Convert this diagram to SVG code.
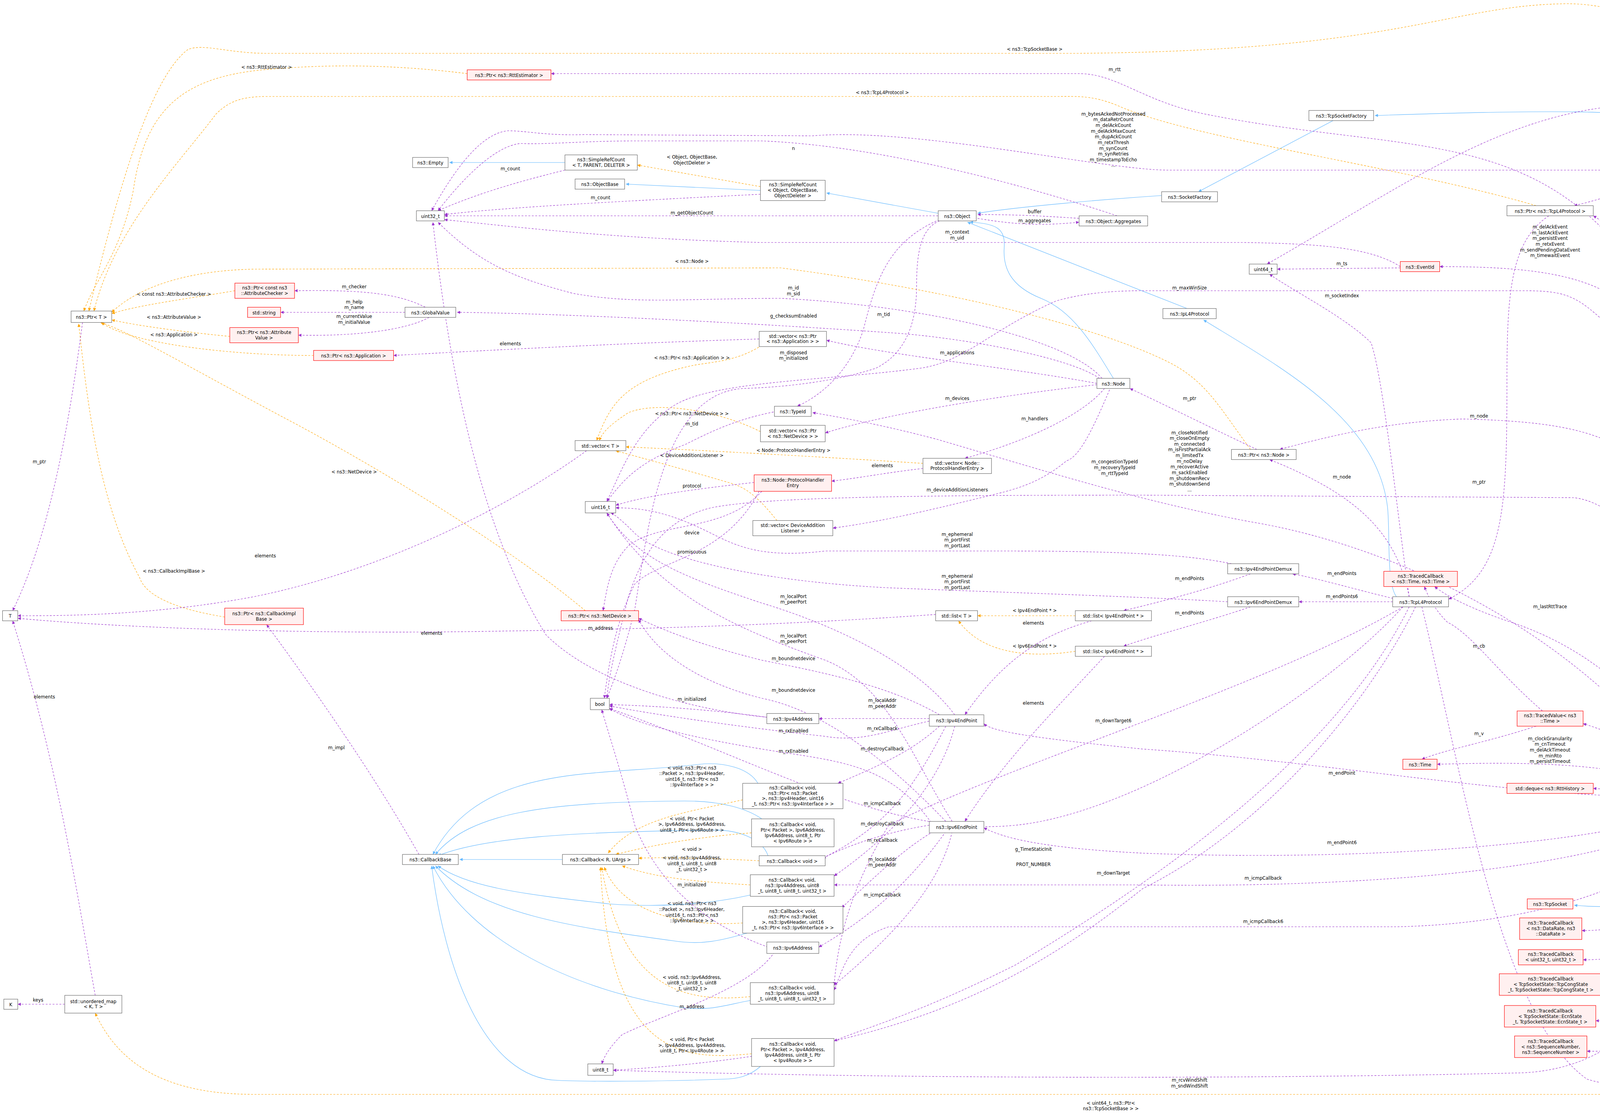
<svg xmlns="http://www.w3.org/2000/svg" width="5096" height="2862" viewBox="0 0 5096 2862">
<style>
.nd rect{fill:#fff;stroke:#666;stroke-width:0.35}
.rd rect{fill:#fff0f0;stroke:#f00;stroke-width:0.35}
.gd rect{fill:#999;stroke:#666;stroke-width:0.35}
text{font-family:"DejaVu Sans","Liberation Sans",sans-serif;font-size:3.6px;fill:#000}
.c{text-anchor:middle}
.u{fill:none;stroke:#9a32cd;stroke-width:0.35;stroke-dasharray:1.5,1.2;marker-end:url(#mp)}
.t{fill:none;stroke:#ffa500;stroke-width:0.35;stroke-dasharray:1.5,1.2;marker-end:url(#mo)}
.i{fill:none;stroke:#63b8ff;stroke-width:0.35;marker-end:url(#mb)}
</style>
<defs>
<marker id="mp" viewBox="0 0 10 10" refX="10" refY="5" markerUnits="userSpaceOnUse" markerWidth="3" markerHeight="2.4" orient="auto"><path d="M0,0L10,5L0,10z" fill="#9a32cd"/></marker>
<marker id="mo" viewBox="0 0 10 10" refX="10" refY="5" markerUnits="userSpaceOnUse" markerWidth="3" markerHeight="2.4" orient="auto"><path d="M0,0L10,5L0,10z" fill="#ffa500"/></marker>
<marker id="mb" viewBox="0 0 10 10" refX="10" refY="5" markerUnits="userSpaceOnUse" markerWidth="3" markerHeight="2.4" orient="auto"><path d="M0,0L10,5L0,10z" fill="#63b8ff"/></marker>
</defs>
<rect width="5096" height="2862" fill="#fff"/>
<g transform="scale(3.25)">
<g id="connectors">
<path class="i" d="M1344,121 C1330,110 1325,105 1322,98 C1310,85 1200,87 1083,91"/>
<path class="i" d="M1050,95 L944,151"/>
<path class="i" d="M915,154 C870,157 800,163 770,168"/>
<path class="i" d="M739,168 L651,152"/>
<path class="i" d="M599,150 L493,145"/>
<path class="i" d="M445,128 L354,128"/>
<path class="i" d="M877,298 C860,270 845,245 820,235 C795,225 790,210 791,195 C792,180 785,176 764,175"/>
<path class="i" d="M935,243 L762,175"/>
<path class="i" d="M1100,470 C1092,460 1095,420 1093,400 C1085,330 1010,290 948,252"/>
<path class="i" d="M1356,633 C1350,690 1310,720 1240,713"/>
<path class="i" d="M443,677 L362,677"/>
<path class="i" d="M597,617 C590,605 570,600 551,602 C470,612 380,600 341,673"/>
<path class="i" d="M600,645 C590,638 570,630 533,631 C430,632 370,640 343,673"/>
<path class="i" d="M605,674 C600,660 580,653 560,654 C450,655 380,660 345,674"/>
<path class="i" d="M591,705 C560,712 520,715 480,712 C420,705 370,700 345,682"/>
<path class="i" d="M592,734 C570,740 555,745 530,741 C450,730 380,720 343,682"/>
<path class="i" d="M591,788 C570,792 560,796 540,794 C450,780 370,740 341,682"/>
<path class="i" d="M599,840 C590,848 580,850 570,850 C520,852 460,852 440,851 C380,850 350,760 340,682"/>

<path class="t" d="M599,147 L502,130"/>
<text class="c" x="545" y="125">&lt; Object, ObjectBase,</text><text class="c" x="545" y="129.5">ObjectDeleter &gt;</text>
<path class="t" d="M185,229 C150,235 110,240 88,247"/>
<text class="c" x="137" y="233">&lt; const ns3::AttributeChecker &gt;</text>
<path class="t" d="M181,265 C150,262 110,257 88,252"/>
<text class="c" x="137" y="251">&lt; ns3::AttributeValue &gt;</text>
<path class="t" d="M247,280 C180,280 100,270 80,254"/>
<text class="c" x="137" y="265">&lt; ns3::Application &gt;</text>
<path class="t" d="M461,481 C400,430 300,370 235,335 C150,290 100,260 79,254"/>
<text class="c" x="279" y="373">&lt; ns3::NetDevice &gt;</text>
<path class="t" d="M177,486 C140,480 115,470 110,455 C80,400 70,330 62,255"/>
<text class="c" x="137" y="451">&lt; ns3::CallbackImplBase &gt;</text>
<path class="t" d="M368,58 C320,52 270,50 220,54 C150,58 115,80 105,150 C95,200 75,220 66,245"/>
<text class="c" x="210" y="54">&lt; ns3::RttEstimator &gt;</text>
<path class="t" d="M1440,622 C1430,500 1400,300 1385,120 C1370,40 1290,1 1230,3 C1140,5 1100,40 850,42 L210,42 C180,42 160,34 148,39 C120,60 95,140 70,245"/>
<text class="c" x="815" y="40">&lt; ns3::TcpSocketBase &gt;</text>
<path class="t" d="M1210,162 C1100,130 940,110 880,83 C860,75 850,76 830,76 L210,76 C190,76 180,80 170,90 C140,130 90,180 74,245"/>
<text class="c" x="695" y="74">&lt; ns3::TcpL4Protocol &gt;</text>
<path class="t" d="M985,354 C960,320 950,300 920,285 C870,260 760,230 615,211 L200,212 C150,213 110,225 88,246"/>
<text class="c" x="545" y="207">&lt; ns3::Node &gt;</text>
<path class="t" d="M600,272 C580,285 560,285 545,288 C490,300 480,320 470,347"/>
<text class="c" x="545" y="283">&lt; ns3::Ptr&lt; ns3::Application &gt; &gt;</text>
<path class="t" d="M599,340 C570,325 520,315 495,325 C480,335 475,340 472,347"/>
<text class="c" x="545" y="327">&lt; ns3::Ptr&lt; ns3::NetDevice &gt; &gt;</text>
<path class="t" d="M727,365 C650,360 560,355 493,352"/>
<text class="c" x="625" y="356">&lt; Node::ProtocolHandlerEntry &gt;</text>
<path class="t" d="M612,410 C600,395 590,385 577,381 C540,370 510,362 485,355"/>
<text class="c" x="545" y="360">&lt; DeviceAdditionListener &gt;</text>
<path class="t" d="M847,485 L770,485"/>
<text class="c" x="815" y="482">&lt; Ipv4EndPoint * &gt;</text>
<path class="t" d="M847,513 C800,520 770,510 755,489"/>
<text class="c" x="815" y="510">&lt; Ipv6EndPoint * &gt;</text>
<path class="t" d="M1520,808 C1500,850 1480,862 1440,862 L200,862 C120,862 90,830 75,798"/>
<text class="c" x="875" y="870">&lt; uint64_t, ns3::Ptr&lt;</text><text class="c" x="875" y="874.5"> ns3::TcpSocketBase &gt; &gt;</text>
<path class="t" d="M585,630 C540,640 500,645 479,672"/>
<text class="c" x="545" y="606">&lt; void, ns3::Ptr&lt; ns3</text><text class="c" x="545" y="610.5">::Packet &gt;, ns3::Ipv4Header,</text><text class="c" x="545" y="615">uint16_t, ns3::Ptr&lt; ns3</text><text class="c" x="545" y="619.5">::Ipv4Interface &gt; &gt;</text>
<path class="t" d="M592,656 C540,660 505,668 485,673"/>
<text class="c" x="545" y="646">&lt; void, Ptr&lt; Packet</text><text class="c" x="545" y="650.5">&gt;, Ipv6Address, Ipv6Address,</text><text class="c" x="545" y="655">uint8_t, Ptr&lt; Ipv6Route &gt; &gt;</text>
<path class="t" d="M598,678 C560,676 520,675 503,676"/>
<text class="c" x="545" y="670">&lt; void &gt;</text>
<path class="t" d="M591,697 C560,695 520,693 490,682"/>
<text class="c" x="545" y="677">&lt; void, ns3::Ipv4Address,</text><text class="c" x="545" y="681.5">uint8_t, uint8_t, uint8</text><text class="c" x="545" y="686">_t, uint32_t &gt;</text>
<path class="t" d="M585,727 C540,730 490,720 476,683"/>
<text class="c" x="545" y="713">&lt; void, ns3::Ptr&lt; ns3</text><text class="c" x="545" y="717.5">::Packet &gt;, ns3::Ipv6Header,</text><text class="c" x="545" y="722">uint16_t, ns3::Ptr&lt; ns3</text><text class="c" x="545" y="726.5">::Ipv6Interface &gt; &gt;</text>
<path class="t" d="M591,785 C540,790 490,780 474,683"/>
<text class="c" x="545" y="771">&lt; void, ns3::Ipv6Address,</text><text class="c" x="545" y="775.5">uint8_t, uint8_t, uint8</text><text class="c" x="545" y="780">_t, uint32_t &gt;</text>
<path class="t" d="M592,830 C540,835 480,835 473,683"/>
<text class="c" x="545" y="820">&lt; void, Ptr&lt; Packet</text><text class="c" x="545" y="824.5">&gt;, Ipv4Address, Ipv4Address,</text><text class="c" x="545" y="829">uint8_t, Ptr&lt; Ipv4Route &gt; &gt;</text>

<path class="u" d="M445,134 C400,145 370,155 345,166"/>
<text class="c" x="402" y="134">m_count</text>
<path class="u" d="M599,153 C500,158 400,163 350,169"/>
<text class="c" x="473" y="157">m_count</text>
<path class="u" d="M739,170 L350,170"/>
<text class="c" x="545" y="169">m_getObjectCount</text>
<path class="u" d="M770,172 C800,177 820,178 850,175"/>
<text class="c" x="815" y="175">m_aggregates</text>
<path class="u" d="M850,172 C820,170 800,169 770,169"/>
<text class="c" x="815" y="168">buffer</text>
<path class="u" d="M880,170 C820,150 700,115 600,111 L500,111 C460,111 430,114 410,113 C390,115 365,140 345,166"/>
<text class="c" x="625" y="118">n</text>
<path class="u" d="M1345,624 C1330,400 1310,200 1295,150 C1290,140 1285,134 1270,134 L920,134 C870,134 720,100 640,107 L460,106 C430,107 415,103 400,103 C380,105 360,130 340,166"/>
<text class="c" x="877" y="91">m_bytesAckedNotProcessed</text><text class="c" x="877" y="95.5">m_dataRetrCount</text><text class="c" x="877" y="100">m_delAckCount</text><text class="c" x="877" y="104.5">m_delAckMaxCount</text><text class="c" x="877" y="109">m_dupAckCount</text><text class="c" x="877" y="113.5">m_retxThresh</text><text class="c" x="877" y="118">m_synCount</text><text class="c" x="877" y="122.5">m_synRetries</text><text class="c" x="877" y="127">m_timestampToEcho</text><text class="c" x="877" y="131.5">...</text>
<path class="u" d="M1103,210 C1080,195 1040,192 980,191 L600,191 C480,188 400,178 350,173"/>
<text class="c" x="754" y="184">m_context</text><text class="c" x="754" y="188.5">m_uid</text>
<path class="u" d="M1103,211 L1006,212"/>
<text class="c" x="1057" y="209">m_ts</text>
<path class="u" d="M868,298 C840,265 720,240 615,235 C540,235 500,240 451,231 C410,220 380,210 345,175"/>
<text class="c" x="625" y="228">m_id</text><text class="c" x="625" y="232.5">m_sid</text>
<path class="u" d="M866,298 C840,280 750,265 700,262 C600,255 450,247 360,246"/>
<text class="c" x="625" y="250">g_checksumEnabled</text>
<path class="u" d="M335,242 C315,232 290,228 232,229"/>
<text class="c" x="279" y="227">m_checker</text>
<path class="u" d="M319,246 L221,246"/>
<text class="c" x="279" y="239">m_help</text><text class="c" x="279" y="243.5">m_name</text>
<path class="u" d="M338,250 C320,260 280,265 235,264"/>
<text class="c" x="279" y="250.5">m_currentValue</text><text class="c" x="279" y="255">m_initialValue</text>
<path class="u" d="M598,267 C500,270 400,275 310,280"/>
<text class="c" x="402" y="272">elements</text>
<path class="u" d="M864,302 C800,290 700,280 651,268"/>
<text class="c" x="754" y="279">m_applications</text>
<path class="u" d="M864,303 C800,310 700,325 650,341"/>
<text class="c" x="754" y="315">m_devices</text>
<path class="u" d="M870,306 C850,330 800,350 760,361"/>
<text class="c" x="815" y="331">m_handlers</text>
<path class="u" d="M874,307 C860,340 850,360 840,363 C820,380 800,385 789,388 C740,400 700,410 656,416"/>
<text class="c" x="754" y="387">m_deviceAdditionListeners</text>
<path class="u" d="M727,369 C700,372 680,376 655,379"/>
<text class="c" x="695" y="368">elements</text>
<path class="u" d="M594,380 C550,385 510,390 485,398"/>
<text class="c" x="545" y="384">protocol</text>
<path class="u" d="M600,387 C570,420 520,410 495,430 C480,445 478,465 475,481"/>
<text class="c" x="545" y="421">device</text>
<path class="u" d="M598,387 C570,440 520,440 500,460 C485,490 480,520 476,550"/>
<text class="c" x="545" y="436">promiscuous</text>
<path class="u" d="M462,355 C400,400 300,450 200,470 C120,485 50,485 14,485"/>
<text class="c" x="209" y="439">elements</text>
<path class="u" d="M737,484 C650,490 550,495 400,497 C250,500 100,495 14,487"/>
<text class="c" x="340" y="500">elements</text>
<path class="u" d="M65,254 C55,330 40,420 10,481"/>
<text class="c" x="31" y="365">m_ptr</text>
<path class="u" d="M330,673 C300,620 260,560 210,492"/>
<text class="c" x="265" y="590">m_impl</text>
<path class="u" d="M75,784 C60,700 45,600 10,489"/>
<text class="c" x="35" y="550">elements</text>
<path class="u" d="M51,791 L14,791"/>
<text class="c" x="30" y="789">keys</text>
<path class="u" d="M612,324 C580,330 560,340 540,350 C500,365 490,380 478,395"/>
<text class="c" x="545" y="335">m_tid</text>
<path class="u" d="M740,173 C700,190 690,220 680,260 C670,290 650,310 628,320"/>
<text class="c" x="696" y="249">m_tid</text>
<path class="u" d="M1335,625 C1250,500 1100,430 985,411 C900,395 840,376 738,346 C700,336 670,330 640,325"/>
<text class="c" x="878" y="365">m_congestionTypeId</text><text class="c" x="878" y="369.5">m_recoveryTypeId</text><text class="c" x="878" y="374">m_rttTypeId</text>
<path class="u" d="M740,174 C725,180 722,200 722,225 C722,260 710,280 690,290 C660,300 620,305 585,306 C520,310 510,420 500,480 C490,520 482,540 478,550"/>
<text class="c" x="625" y="279">m_disposed</text><text class="c" x="625" y="283.5">m_initialized</text>
<path class="u" d="M1345,624 C1320,450 1300,300 1260,250 C1240,232 1230,229 1200,229 L900,229 C870,229 850,232 832,237 C780,260 760,285 725,290 C650,300 560,300 530,320 C500,340 490,370 478,395"/>
<text class="c" x="937" y="228">m_maxWinSize</text>
<path class="u" d="M1348,624 C1330,500 1300,400 1240,392 L900,390 C700,390 600,392 560,400 C520,410 505,440 495,470 C485,510 480,530 478,550"/>
<text class="c" x="937" y="342">m_closeNotified</text><text class="c" x="937" y="346.5">m_closeOnEmpty</text><text class="c" x="937" y="351">m_connected</text><text class="c" x="937" y="355.5">m_isFirstPartialAck</text><text class="c" x="937" y="360">m_limitedTx</text><text class="c" x="937" y="364.5">m_noDelay</text><text class="c" x="937" y="369">m_recoverActive</text><text class="c" x="937" y="373.5">m_sackEnabled</text><text class="c" x="937" y="378">m_shutdownRecv</text><text class="c" x="937" y="382.5">m_shutdownSend</text><text class="c" x="937" y="387">...</text>
<path class="u" d="M990,354 C960,340 920,320 890,306"/>
<text class="c" x="937" y="315">m_ptr</text>
<path class="u" d="M1345,624 C1340,520 1320,420 1293,362 C1260,340 1230,332 1152,330 C1100,332 1060,340 1008,354"/>
<text class="c" x="1165" y="329">m_node</text>
<path class="u" d="M1110,470 C1100,420 1070,390 1000,362"/>
<text class="c" x="1057" y="377">m_node</text>
<path class="u" d="M1100,472 C1070,465 1040,456 1018,452"/>
<text class="c" x="1057" y="453">m_endPoints</text>
<path class="u" d="M1097,474 L1023,474"/>
<text class="c" x="1057" y="471">m_endPoints6</text>
<path class="u" d="M985,452 C950,465 910,475 885,481"/>
<text class="c" x="937" y="457">m_endPoints</text>
<path class="u" d="M985,478 C950,490 910,500 885,509"/>
<text class="c" x="937" y="484">m_endPoints</text>
<path class="u" d="M970,444 C940,438 900,434 789,434 L650,434 C600,440 580,430 560,420 C530,405 510,400 485,400"/>
<text class="c" x="754" y="422">m_ephemeral</text><text class="c" x="754" y="426.5">m_portFirst</text><text class="c" x="754" y="431">m_portLast</text>
<path class="u" d="M967,474 C900,470 800,467 700,463 C600,458 520,440 500,420 C490,410 484,405 481,404"/>
<text class="c" x="754" y="455">m_ephemeral</text><text class="c" x="754" y="459.5">m_portFirst</text><text class="c" x="754" y="464">m_portLast</text>
<path class="u" d="M860,489 C820,500 790,520 760,563"/>
<text class="c" x="814" y="492">elements</text>
<path class="u" d="M870,517 C830,560 790,600 760,647"/>
<text class="c" x="814" y="555">elements</text>
<path class="u" d="M752,563 C720,520 650,490 600,475 C540,455 500,440 478,404"/>
<text class="c" x="625" y="471">m_localPort</text><text class="c" x="625" y="475.5">m_peerPort</text>
<path class="u" d="M750,647 C720,600 700,540 650,520 C580,495 520,470 478,404"/>
<text class="c" x="625" y="502">m_localPort</text><text class="c" x="625" y="506.5">m_peerPort</text>
<path class="u" d="M740,563 C700,540 650,530 600,520 C560,510 530,500 503,487"/>
<text class="c" x="625" y="520">m_boundnetdevice</text>
<path class="u" d="M745,647 C700,600 650,560 600,550 C560,540 520,520 503,488"/>
<text class="c" x="625" y="545">m_boundnetdevice</text>
<path class="u" d="M732,566 L645,566"/>
<text class="c" x="695" y="553">m_localAddr</text><text class="c" x="695" y="557.5">m_peerAddr</text>
<path class="u" d="M732,568 C700,575 680,585 650,580 C560,570 500,560 480,556"/>
<text class="c" x="625" y="577">m_rxEnabled</text>
<path class="u" d="M735,650 C700,600 660,600 600,590 C540,580 500,570 480,558"/>
<text class="c" x="625" y="593">m_rxEnabled</text>
<path class="u" d="M604,565 C570,560 520,556 480,555"/>
<text class="c" x="545" y="552">m_initialized</text>
<path class="u" d="M605,746 C560,730 520,700 500,650 C490,610 480,580 474,559"/>
<text class="c" x="545" y="698">m_initialized</text>
<path class="u" d="M605,565 C550,560 470,540 430,500 C380,420 355,300 341,175"/>
<text class="c" x="473" y="496">m_address</text>
<path class="u" d="M610,750 C590,780 520,800 490,815 C480,825 476,832 474,838"/>
<text class="c" x="545" y="794">m_address</text>
<path class="u" d="M740,572 C720,590 700,600 660,617"/>
<text class="c" x="695" y="575">m_rxCallback</text>
<path class="u" d="M745,572 C720,620 700,650 648,676"/>
<text class="c" x="695" y="591">m_destroyCallback</text>
<path class="u" d="M752,572 C740,620 700,660 657,690"/>
<text class="c" x="695" y="634">m_icmpCallback</text>
<path class="u" d="M735,655 C710,670 690,690 663,715"/>
<text class="c" x="695" y="663">m_rxCallback</text>
<path class="u" d="M732,650 C700,655 670,665 648,676"/>
<text class="c" x="695" y="650">m_destroyCallback</text>
<path class="u" d="M750,655 C740,700 700,740 657,776"/>
<text class="c" x="695" y="706">m_icmpCallback</text>
<path class="u" d="M745,655 C720,690 690,720 645,746"/>
<text class="c" x="695" y="678">m_localAddr</text><text class="c" x="695" y="682.5">m_peerAddr</text>
<path class="u" d="M1105,478 C1000,540 800,600 700,650 C670,700 660,740 657,776"/>
<text class="c" x="877" y="569">m_downTarget6</text>
<path class="u" d="M1110,478 C1050,600 900,700 800,760 C720,800 680,810 657,820"/>
<text class="c" x="877" y="689">m_downTarget</text>
<path class="u" d="M1105,478 C1050,540 900,640 800,650 C700,660 600,600 480,558"/>
<text class="c" x="814" y="670">g_TimeStaticInit</text>
<path class="u" d="M1115,478 C1080,550 1000,650 900,700 C800,780 700,830 483,843"/>
<text class="c" x="814" y="682">PROT_NUMBER</text>
<path class="u" d="M1333,628 C1200,630 1050,600 900,590 C800,580 780,575 775,570"/>
<text class="c" x="1057" y="610">m_endPoint</text>
<path class="u" d="M1340,632 C1300,660 1100,680 900,672 C820,668 790,660 775,652"/>
<text class="c" x="1057" y="665">m_endPoint6</text>
<path class="u" d="M1345,632 C1300,680 1100,700 900,697 L657,697"/>
<text class="c" x="995" y="693">m_icmpCallback</text>
<path class="u" d="M1350,632 C1320,700 1200,728 1100,730 L700,730 C670,740 665,760 657,780"/>
<text class="c" x="995" y="727">m_icmpCallback6</text>
<path class="u" d="M1355,632 C1340,750 1300,840 1200,845 C1000,850 700,850 483,843"/>
<text class="c" x="937" y="852">m_rcvWindShift</text><text class="c" x="937" y="856.5">m_sndWindShift</text>
<path class="u" d="M1120,478 C1150,600 1180,800 1250,850 C1300,865 1400,860 1450,855 C1500,850 1510,830 1525,808"/>
<text class="c" x="1357" y="857">m_sockets</text>
<path class="u" d="M1535,791 C1510,750 1480,700 1450,635"/>
<text class="c" x="1489" y="691">elements</text>
<path class="u" d="M1540,791 C1530,600 1470,300 1420,200 C1380,120 1330,80 1280,83 C1180,90 1100,150 998,208"/>
<text class="c" x="1295" y="81">keys</text>
<path class="u" d="M1415,628 L1380,628"/>
<text class="c" x="1401" y="626">m_ptr</text>
<path class="u" d="M1340,624 C1320,600 1280,580 1247,570"/>
<text class="c" x="1295" y="575">m_rto</text>
<path class="u" d="M1337,624 C1280,600 1200,600 1132,602"/>
<text class="c" x="1221" y="583">m_clockGranularity</text><text class="c" x="1221" y="587.5">m_cnTimeout</text><text class="c" x="1221" y="592">m_delAckTimeout</text><text class="c" x="1221" y="596.5">m_minRto</text><text class="c" x="1221" y="601">m_persistTimeout</text>
<path class="u" d="M1210,572 C1170,585 1140,590 1120,598"/>
<text class="c" x="1165" y="579">m_v</text>
<path class="u" d="M1333,626 L1255,621"/>
<text class="c" x="1295" y="621">m_history</text>
<path class="u" d="M1345,624 C1300,550 1250,510 1190,490 C1160,480 1140,470 1130,462"/>
<text class="c" x="1221" y="479">m_lastRttTrace</text>
<path class="u" d="M1215,560 C1180,530 1160,500 1140,490 C1130,480 1125,470 1122,462"/>
<text class="c" x="1165" y="510">m_cb</text>
<path class="u" d="M1220,170 C1190,190 1187,230 1187,300 C1187,400 1185,450 1141,472"/>
<text class="c" x="1165" y="381">m_ptr</text>
<path class="u" d="M1345,129 C1310,140 1270,155 1240,162"/>
<text class="c" x="1295" y="134">m_tcp</text>
<path class="u" d="M1348,624 C1340,400 1310,200 1255,170"/>
<text class="c" x="1295" y="171">m_tcp</text>
<path class="u" d="M1345,624 C1330,400 1300,260 1280,240 C1250,215 1200,210 1134,210"/>
<text class="c" x="1221" y="180">m_delAckEvent</text><text class="c" x="1221" y="184.5">m_lastAckEvent</text><text class="c" x="1221" y="189">m_persistEvent</text><text class="c" x="1221" y="193.5">m_retxEvent</text><text class="c" x="1221" y="198">m_sendPendingDataEvent</text><text class="c" x="1221" y="202.5">m_timewaitEvent</text>
<path class="u" d="M1350,624 C1340,450 1300,250 1280,200 C1200,100 1100,120 950,90 C900,80 880,58 850,58 L434,58"/>
<text class="c" x="878" y="56">m_rtt</text>
<path class="u" d="M1110,470 C1100,400 1090,300 1080,270 C1060,250 1020,230 1000,216"/>
<text class="c" x="1057" y="234">m_socketIndex</text>
<path class="u" d="M1352,632 C1340,700 1310,733 1246,733"/>
<text class="c" x="1296" y="719">m_pacingRateTrace</text>
<path class="u" d="M1354,632 C1345,720 1320,756 1247,756"/>
<text class="c" x="1296" y="735">m_bytesInFlightTrace</text><text class="c" x="1296" y="739.5">m_cWndInflTrace</text><text class="c" x="1296" y="744">m_cWndTrace</text><text class="c" x="1296" y="748.5">m_ssThTrace</text>
<path class="u" d="M1356,632 C1350,740 1330,780 1262,780"/>
<text class="c" x="1296" y="767">m_congStateTrace</text>
<path class="u" d="M1358,632 C1355,760 1340,805 1257,804"/>
<text class="c" x="1296" y="787">m_ecnStateTrace</text>
<path class="u" d="M1360,632 C1358,780 1345,830 1250,828"/>
<text class="c" x="1296" y="809">m_highTxMarkTrace</text><text class="c" x="1296" y="813.5">m_nextTxSequenceTrace</text>
</g>

<g id="n1" class="gd"><rect x="1327" y="121" width="59" height="8"/><text class="c" x="1356.5" y="126.6">ns3::TcpSocketFactoryImpl</text></g>
<g id="n2" class="nd"><rect x="1031" y="87" width="51" height="8"/><text class="c" x="1056.5" y="92.6">ns3::TcpSocketFactory</text></g>
<g id="n3" class="nd"><rect x="915" y="151" width="44" height="8"/><text class="c" x="937" y="156.6">ns3::SocketFactory</text></g>
<g id="n4" class="nd"><rect x="325" y="124" width="28" height="8"/><text class="c" x="339" y="129.6">ns3::Empty</text></g>
<g id="n5" class="nd"><rect x="445" y="122" width="57" height="12"/><text class="c" x="473.5" y="127">ns3::SimpleRefCount</text><text class="c" x="473.5" y="131.3">&lt; T, PARENT, DELETER &gt;</text></g>
<g id="n6" class="nd"><rect x="453" y="141" width="39" height="8"/><text class="c" x="472.5" y="146.6">ns3::ObjectBase</text></g>
<g id="n7" class="nd"><rect x="599" y="142" width="51" height="16"/><text class="c" x="624.5" y="146.9">ns3::SimpleRefCount</text><text class="c" x="624.5" y="151.2">&lt; Object, ObjectBase,</text><text class="c" x="624.5" y="155.5">ObjectDeleter &gt;</text></g>
<g id="n8" class="nd"><rect x="739" y="166" width="30" height="8"/><text class="c" x="754" y="171.6">ns3::Object</text></g>
<g id="n9" class="nd"><rect x="850" y="170" width="54" height="8"/><text class="c" x="877" y="175.6">ns3::Object::Aggregates</text></g>
<g id="n10" class="nd"><rect x="328" y="166" width="22" height="8"/><text class="c" x="339" y="171.6">uint32_t</text></g>
<g id="n11" class="rd"><rect x="368" y="55" width="66" height="8"/><text class="c" x="401" y="60.6">ns3::Ptr&lt; ns3::RttEstimator &gt;</text></g>
<g id="n12" class="nd"><rect x="984" y="208" width="22" height="8"/><text class="c" x="995" y="213.6">uint64_t</text></g>
<g id="n13" class="rd"><rect x="1103" y="206" width="31" height="8"/><text class="c" x="1118.5" y="211.6">ns3::EventId</text></g>
<g id="n14" class="nd"><rect x="1187" y="162" width="68" height="8"/><text class="c" x="1221" y="167.6">ns3::Ptr&lt; ns3::TcpL4Protocol &gt;</text></g>
<g id="n15" class="nd"><rect x="56" y="245" width="32" height="9"/><text class="c" x="72" y="251">ns3::Ptr&lt; T &gt;</text></g>
<g id="n16" class="rd"><rect x="185" y="223" width="47" height="12"/><text class="c" x="208.5" y="228">ns3::Ptr&lt; const ns3</text><text class="c" x="208.5" y="232.3">::AttributeChecker &gt;</text></g>
<g id="n17" class="rd"><rect x="195" y="242" width="26" height="8"/><text class="c" x="208" y="247.6">std::string</text></g>
<g id="n18" class="rd"><rect x="181" y="258" width="54" height="12"/><text class="c" x="208" y="263">ns3::Ptr&lt; ns3::Attribute</text><text class="c" x="208" y="267.3">Value &gt;</text></g>
<g id="n19" class="nd"><rect x="319" y="242" width="40" height="8"/><text class="c" x="339" y="247.6">ns3::GlobalValue</text></g>
<g id="n20" class="rd"><rect x="247" y="276" width="63" height="8"/><text class="c" x="278.5" y="281.6">ns3::Ptr&lt; ns3::Application &gt;</text></g>
<g id="n21" class="nd"><rect x="598" y="261" width="53" height="12"/><text class="c" x="624.5" y="266">std::vector&lt; ns3::Ptr</text><text class="c" x="624.5" y="270.3">&lt; ns3::Application &gt; &gt;</text></g>
<g id="n22" class="nd"><rect x="610" y="320" width="29" height="8"/><text class="c" x="624.5" y="325.6">ns3::TypeId</text></g>
<g id="n23" class="nd"><rect x="599" y="335" width="51" height="13"/><text class="c" x="624.5" y="340.5">std::vector&lt; ns3::Ptr</text><text class="c" x="624.5" y="344.8">&lt; ns3::NetDevice &gt; &gt;</text></g>
<g id="n24" class="nd"><rect x="864" y="298" width="26" height="8"/><text class="c" x="877" y="303.6">ns3::Node</text></g>
<g id="n25" class="nd"><rect x="916" y="243" width="42" height="8"/><text class="c" x="937" y="248.6">ns3::IpL4Protocol</text></g>
<g id="n26" class="nd"><rect x="970" y="354" width="51" height="8"/><text class="c" x="995.5" y="359.6">ns3::Ptr&lt; ns3::Node &gt;</text></g>
<g id="n27" class="nd"><rect x="453" y="347" width="40" height="8"/><text class="c" x="473" y="352.6">std::vector&lt; T &gt;</text></g>
<g id="n28" class="nd"><rect x="727" y="361" width="54" height="12"/><text class="c" x="754" y="366">std::vector&lt; Node::</text><text class="c" x="754" y="370.3">ProtocolHandlerEntry &gt;</text></g>
<g id="n29" class="rd"><rect x="594" y="374" width="61" height="13"/><text class="c" x="624.5" y="379.5">ns3::Node::ProtocolHandler</text><text class="c" x="624.5" y="383.8">Entry</text></g>
<g id="n30" class="nd"><rect x="461" y="395" width="24" height="9"/><text class="c" x="473" y="401">uint16_t</text></g>
<g id="n31" class="nd"><rect x="593" y="410" width="63" height="12"/><text class="c" x="624.5" y="415">std::vector&lt; DeviceAddition</text><text class="c" x="624.5" y="419.3">Listener &gt;</text></g>
<g id="n32" class="nd"><rect x="967" y="444" width="56" height="8"/><text class="c" x="995" y="449.6">ns3::Ipv4EndPointDemux</text></g>
<g id="n33" class="nd"><rect x="967" y="470" width="56" height="8"/><text class="c" x="995" y="475.6">ns3::Ipv6EndPointDemux</text></g>
<g id="n34" class="rd"><rect x="1090" y="450" width="58" height="12"/><text class="c" x="1119" y="455">ns3::TracedCallback</text><text class="c" x="1119" y="459.3">&lt; ns3::Time, ns3::Time &gt;</text></g>
<g id="n35" class="nd"><rect x="1097" y="470" width="44" height="8"/><text class="c" x="1119" y="475.6">ns3::TcpL4Protocol</text></g>
<g id="n36" class="nd"><rect x="847" y="481" width="60" height="8"/><text class="c" x="877" y="486.6">std::list&lt; Ipv4EndPoint * &gt;</text></g>
<g id="n37" class="nd"><rect x="847" y="509" width="60" height="8"/><text class="c" x="877" y="514.6">std::list&lt; Ipv6EndPoint * &gt;</text></g>
<g id="n38" class="nd"><rect x="737" y="481" width="33" height="8"/><text class="c" x="753.5" y="486.6">std::list&lt; T &gt;</text></g>
<g id="n39" class="nd"><rect x="2" y="481" width="12" height="8"/><text class="c" x="8" y="486.6">T</text></g>
<g id="n40" class="rd"><rect x="177" y="479" width="62" height="13"/><text class="c" x="208" y="484.5">ns3::Ptr&lt; ns3::CallbackImpl</text><text class="c" x="208" y="488.8">Base &gt;</text></g>
<g id="n41" class="rd"><rect x="442" y="481" width="61" height="8"/><text class="c" x="472.5" y="486.6">ns3::Ptr&lt; ns3::NetDevice &gt;</text></g>
<g id="n42" class="nd"><rect x="465" y="550" width="15" height="9"/><text class="c" x="472.5" y="556">bool</text></g>
<g id="n43" class="nd"><rect x="604" y="562" width="41" height="8"/><text class="c" x="624.5" y="567.6">ns3::Ipv4Address</text></g>
<g id="n44" class="nd"><rect x="732" y="563" width="43" height="9"/><text class="c" x="753.5" y="569">ns3::Ipv4EndPoint</text></g>
<g id="n45" class="rd"><rect x="1195" y="560" width="52" height="12"/><text class="c" x="1221" y="565">ns3::TracedValue&lt; ns3</text><text class="c" x="1221" y="569.3">::Time &gt;</text></g>
<g id="n46" class="rd"><rect x="1105" y="598" width="27" height="8"/><text class="c" x="1118.5" y="603.6">ns3::Time</text></g>
<g id="n47" class="rd"><rect x="1187" y="617" width="68" height="8"/><text class="c" x="1221" y="622.6">std::deque&lt; ns3::RttHistory &gt;</text></g>
<g id="n48" class="rd"><rect x="1333" y="624" width="47" height="8"/><text class="c" x="1356.5" y="629.6">ns3::TcpSocketBase</text></g>
<g id="n49" class="nd"><rect x="1415" y="622" width="56" height="13"/><text class="c" x="1443" y="627.5">ns3::Ptr&lt; ns3::TcpSocket</text><text class="c" x="1443" y="631.8">Base &gt;</text></g>
<g id="n50" class="nd"><rect x="585" y="617" width="79" height="20"/><text class="c" x="624.5" y="621.7">ns3::Callback&lt; void,</text><text class="c" x="624.5" y="626">ns3::Ptr&lt; ns3::Packet</text><text class="c" x="624.5" y="630.3">&gt;, ns3::Ipv4Header, uint16</text><text class="c" x="624.5" y="634.6">_t, ns3::Ptr&lt; ns3::Ipv4Interface &gt; &gt;</text></g>
<g id="n51" class="nd"><rect x="592" y="645" width="65" height="22"/><text class="c" x="624.5" y="650.7">ns3::Callback&lt; void,</text><text class="c" x="624.5" y="655">Ptr&lt; Packet &gt;, Ipv6Address,</text><text class="c" x="624.5" y="659.3">Ipv6Address, uint8_t, Ptr</text><text class="c" x="624.5" y="663.6">&lt; Ipv6Route &gt; &gt;</text></g>
<g id="n52" class="nd"><rect x="317" y="673" width="44" height="8"/><text class="c" x="339" y="678.6">ns3::CallbackBase</text></g>
<g id="n53" class="nd"><rect x="443" y="673" width="60" height="8"/><text class="c" x="473" y="678.6">ns3::Callback&lt; R, UArgs &gt;</text></g>
<g id="n54" class="nd"><rect x="598" y="674" width="52" height="8"/><text class="c" x="624" y="679.6">ns3::Callback&lt; void &gt;</text></g>
<g id="n55" class="nd"><rect x="732" y="647" width="43" height="9"/><text class="c" x="753.5" y="653">ns3::Ipv6EndPoint</text></g>
<g id="n56" class="nd"><rect x="591" y="689" width="66" height="17"/><text class="c" x="624" y="694.4">ns3::Callback&lt; void,</text><text class="c" x="624" y="698.7">ns3::Ipv4Address, uint8</text><text class="c" x="624" y="703">_t, uint8_t, uint8_t, uint32_t &gt;</text></g>
<g id="n57" class="nd"><rect x="585" y="714" width="79" height="21"/><text class="c" x="624.5" y="719.2">ns3::Callback&lt; void,</text><text class="c" x="624.5" y="723.5">ns3::Ptr&lt; ns3::Packet</text><text class="c" x="624.5" y="727.8">&gt;, ns3::Ipv6Header, uint16</text><text class="c" x="624.5" y="732.1">_t, ns3::Ptr&lt; ns3::Ipv6Interface &gt; &gt;</text></g>
<g id="n58" class="nd"><rect x="604" y="742" width="41" height="9"/><text class="c" x="624.5" y="748">ns3::Ipv6Address</text></g>
<g id="n59" class="nd"><rect x="591" y="774" width="66" height="17"/><text class="c" x="624" y="779.4">ns3::Callback&lt; void,</text><text class="c" x="624" y="783.7">ns3::Ipv6Address, uint8</text><text class="c" x="624" y="788">_t, uint8_t, uint8_t, uint32_t &gt;</text></g>
<g id="n60" class="nd"><rect x="592" y="818" width="65" height="22"/><text class="c" x="624.5" y="823.7">ns3::Callback&lt; void,</text><text class="c" x="624.5" y="828">Ptr&lt; Packet &gt;, Ipv4Address,</text><text class="c" x="624.5" y="832.3">Ipv4Address, uint8_t, Ptr</text><text class="c" x="624.5" y="836.6">&lt; Ipv4Route &gt; &gt;</text></g>
<g id="n61" class="nd"><rect x="463" y="838" width="20" height="9"/><text class="c" x="473" y="844">uint8_t</text></g>
<g id="n62" class="nd"><rect x="3" y="787" width="11" height="8"/><text class="c" x="8.5" y="792.6">K</text></g>
<g id="n63" class="nd"><rect x="51" y="784" width="45" height="14"/><text class="c" x="73.5" y="790">std::unordered_map</text><text class="c" x="73.5" y="794.3">&lt; K, T &gt;</text></g>
<g id="n64" class="rd"><rect x="1203" y="708" width="36" height="8"/><text class="c" x="1221" y="713.6">ns3::TcpSocket</text></g>
<g id="n65" class="rd"><rect x="1197" y="723" width="49" height="17"/><text class="c" x="1221.5" y="728.4">ns3::TracedCallback</text><text class="c" x="1221.5" y="732.7">&lt; ns3::DataRate, ns3</text><text class="c" x="1221.5" y="737">::DataRate &gt;</text></g>
<g id="n66" class="rd"><rect x="1196" y="748" width="51" height="12"/><text class="c" x="1221.5" y="753">ns3::TracedCallback</text><text class="c" x="1221.5" y="757.3">&lt; uint32_t, uint32_t &gt;</text></g>
<g id="n67" class="rd"><rect x="1181" y="767" width="81" height="17"/><text class="c" x="1221.5" y="772.4">ns3::TracedCallback</text><text class="c" x="1221.5" y="776.7">&lt; TcpSocketState::TcpCongState</text><text class="c" x="1221.5" y="781">_t, TcpSocketState::TcpCongState_t &gt;</text></g>
<g id="n68" class="rd"><rect x="1185" y="792" width="72" height="17"/><text class="c" x="1221" y="797.4">ns3::TracedCallback</text><text class="c" x="1221" y="801.7">&lt; TcpSocketState::EcnState</text><text class="c" x="1221" y="806">_t, TcpSocketState::EcnState_t &gt;</text></g>
<g id="n69" class="rd"><rect x="1193" y="816" width="57" height="17"/><text class="c" x="1221.5" y="821.4">ns3::TracedCallback</text><text class="c" x="1221.5" y="825.7">&lt; ns3::SequenceNumber,</text><text class="c" x="1221.5" y="830">ns3::SequenceNumber &gt;</text></g>
<g id="n70" class="nd"><rect x="1506" y="791" width="60" height="17"/><text x="1508" y="796.4">std::unordered_map</text><text x="1508" y="800.7">&lt; uint64_t, ns3::Ptr</text><text x="1508" y="805">&lt; ns3::TcpSocketBase &gt; &gt;</text></g>
</g>
</svg>
